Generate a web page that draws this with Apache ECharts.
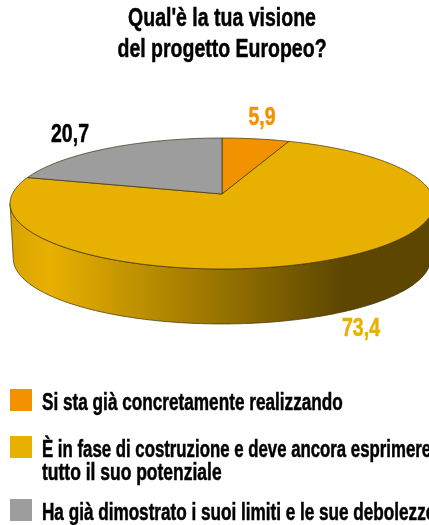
<!DOCTYPE html>
<html>
<head>
<meta charset="utf-8">
<style>
  html, body { margin: 0; padding: 0; background: #fff; }
  #main { width: 429px; height: 525px; overflow: hidden; }
</style>
<script src="https://cdn.jsdelivr.net/npm/echarts@6/dist/echarts.min.js"></script>
</head>
<body>
<div id="main"></div>
<script>
  // dati
  const chartTitle = "Qual'è la tua visione\ndel progetto Europeo?"
  const categories = [
    'Si sta già concretamente realizzando',
    'È in fase di costruzione e deve ancora esprimere\ntutto il suo potenziale',
    'Ha già dimostrato i suoi limiti e le sue debolezze'
  ]
  const values = [5.9, 73.4, 20.7]
  const colors = ['#F39200', '#E8B000', '#9D9D9D']

  const FONT = '"Liberation Sans", sans-serif'

  // prospettiva della torta: apice in (cx, cy), k = schiacciamento prospettico
  const cx = 222, cy = 194
  const a = 209.7, b = 64.1, k = 0.145
  const depth = 55
  const bottomScale = 0.985
  const total = values.reduce((s, v) => s + v, 0)

  function project(theta) {
    const w = 1 + k * Math.cos(theta)
    return [a * Math.sin(theta) / w, -b * Math.cos(theta) / w]
  }

  function arc(from, to) {
    const pts = []
    const steps = Math.max(2, Math.ceil((to - from) / 0.02))
    for (let i = 0; i <= steps; i++) {
      pts.push(project(from + (to - from) * i / steps))
    }
    return pts
  }

  const edge = 'rgba(60,48,10,0.7)'
  const wallFill = new echarts.graphic.LinearGradient(10, 0, 345, 0, [
    { offset: 0, color: '#D8A400' },
    { offset: 0.12, color: '#E8B000' },
    { offset: 1, color: '#5C4600' }
  ], true)

  function makeRender(index) {
    return function (params, api) {
      const before = values.slice(0, index).reduce((s, v) => s + v, 0)
      const start = before / total * Math.PI * 2
      const end = start + api.value(0) / total * Math.PI * 2
      const children = []

      // parete laterale, solo la parte davanti
      const frontFrom = Math.acos(-k)
      const frontTo = Math.PI * 2 - frontFrom
      const wFrom = Math.max(start, frontFrom)
      const wTo = Math.min(end, frontTo)
      if (wTo > wFrom) {
        const topEdge = arc(wFrom, wTo).map(p => [cx + p[0], cy + p[1]])
        const lowEdge = arc(wFrom, wTo).map(p => [cx + p[0] * bottomScale, cy + p[1] + depth]).reverse()
        children.push({
          type: 'polygon',
          shape: { points: topEdge.concat(lowEdge) },
          style: { fill: wallFill, stroke: edge, lineWidth: 1 }
        })
      }

      // fetta superiore
      const top = arc(start, end).map(p => [cx + p[0], cy + p[1]])
      top.push([cx, cy])
      children.push({
        type: 'polygon',
        shape: { points: top },
        style: { fill: colors[index], stroke: edge, lineWidth: 1 }
      })

      return { type: 'group', children: children }
    }
  }

  const myChart = echarts.init(document.getElementById('main'))

  const series = categories.map((name, i) => ({
    type: 'custom',
    name: name,
    coordinateSystem: 'none',
    silent: true,
    animation: false,
    renderItem: makeRender(i),
    data: [[values[i]]]
  }))

  // testo bold stretto: il font condensato non c'è, si stringe con scaleX
  function boldText(x, y, text, size, fill, align, lineHeight, baseline, scaleX) {
    return {
      type: 'text',
      x: x,
      y: y,
      scaleX: scaleX,
      silent: true,
      style: {
        text: text,
        fill: fill,
        stroke: fill,
        lineWidth: 0.5,
        font: 'bold ' + size + 'px ' + FONT,
        lineHeight: lineHeight,
        align: align,
        verticalAlign: baseline
      }
    }
  }

  const graphic = []
  graphic.push(boldText(222, 3, chartTitle, 26, '#000', 'center', 31, 'top', 0.75))

  // valori, posizione e colore per fetta
  const labelX = [262, 361, 70]
  const labelY = [118, 329, 135]
  const labelColors = ['#F39200', '#E8B000', '#000']
  values.forEach((v, i) => {
    graphic.push(boldText(labelX[i], labelY[i], String(v).replace('.', ','), 26, labelColors[i], 'center', 26, 'middle', 0.75))
  })

  // legenda, una riga di testo alla volta
  const legendBoxY = [389, 436, 499]
  const legendRowScale = [[0.747], [0.73, 0.76], [0.745]]
  categories.forEach((name, i) => {
    graphic.push({
      type: 'rect',
      silent: true,
      shape: { x: 10, y: legendBoxY[i], width: 22, height: 22 },
      style: { fill: colors[i] }
    })
    name.split('\n').forEach((row, r) => {
      graphic.push(boldText(42, legendBoxY[i] + 3 + r * 23, row, 23, '#000', 'left', 23, 'top', legendRowScale[i][r]))
    })
  })

  myChart.setOption({
    backgroundColor: '#fff',
    animation: false,
    series: series,
    graphic: graphic
  })
</script>
</body>
</html>
